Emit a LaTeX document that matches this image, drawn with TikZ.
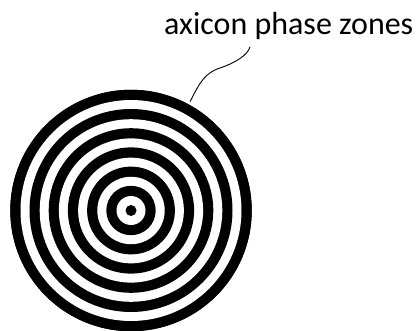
\documentclass[tikz,border=0pt]{standalone}
\usepackage{fontspec}
\setmainfont{Carlito}
\begin{document}
\begin{tikzpicture}[x=1pt,y=1pt,
  ringblack/.style={circle,fill=black,inner sep=0pt,draw=none},
  ringwhite/.style={circle,fill=white,inner sep=0pt,draw=none},
  leader/.style={line width=0.9pt,black},
  lbl/.style={inner sep=0pt,font=\fontsize{32}{37}\selectfont}]
\useasboundingbox (0,0) rectangle (418,330);
\coordinate (c) at (131,119.5);
\node[ringblack,minimum size=241.4pt] (disk) at (c) {};
\foreach \k in {6,5,4,3,2,1}{
  \pgfmathsetmacro{\ro}{2*(19.2*\k+5.5)}
  \pgfmathsetmacro{\ri}{2*(19.2*\k-4.7)}
  \node[ringblack,minimum size=\ro pt] (b\k) at (c) {};
  \node[ringwhite,minimum size=\ri pt] (w\k) at (c) {};
}
\node[ringblack,minimum size=11pt] (dot) at (c) {};
\node[lbl,anchor=base west] (label) at (164,295) {axicon phase zones};
\coordinate (s) at (190,228.3);
\coordinate (e) at (250,283.3);
\draw[leader] (s) .. controls (200,248) and (205,257) .. (220,262)
  .. controls (235,267) and (248,275) .. (e);
\end{tikzpicture}
\end{document}
